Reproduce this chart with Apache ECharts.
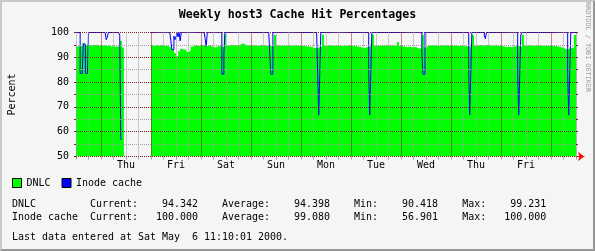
<!DOCTYPE html>
<html><head><meta charset="utf-8">
<script src="https://cdn.jsdelivr.net/npm/echarts@6/dist/echarts.min.js"></script>
<style>
html,body{margin:0;padding:0;background:#f5f5f5}
#wrap{position:relative;width:595px;height:251px}
#c{width:595px;height:251px}
#f{position:absolute;left:0;top:0;width:595px;height:251px;box-sizing:border-box;border:2px solid;border-color:#c8c8c8 #969696 #969696 #c8c8c8;pointer-events:none}
</style>
</head><body>
<div id="wrap"><div id="c"></div><div id="f"></div></div>
<script>
const chartTitle = 'Weekly host3 Cache Hit Percentages';
const yAxisName = 'Percent';
const credit = 'RRDTOOL / TOBI OETIKER';
const dayLabels = ['Thu','Fri','Sat','Sun','Mon','Tue','Wed','Thu','Fri'];
const yTickLabels = [50,60,70,80,90,100];
const seriesNames = ['DNLC','Inode cache'];
const statCurrent = [94.342, 100.000];
const statAverage = [94.398, 99.080];
const statMin = [90.418, 56.901];
const statMax = [99.231, 100.000];
const lastUpdate = 'Last data entered at Sat May  6 11:10:01 2000.';

// DNLC hit %, hourly from Wed 12:00 (241 readings)
const dnlc = [
94.5,94.2,94.9,95.9,94.6,95.3,94.8,95.0,94.9,95.1,94.8,94.9,
94.7,94.9,94.6,94.8,94.4,94.6,94.3,94.5,94.2,96.6,94.0,
null,null,null,null,null,null,null,null,null,null,null,null,null,
94.8,94.6,94.9,94.7,95.0,94.8,94.6,94.8,94.2,94.0,93.0,91.6,
90.418,92.4,93.4,92.9,93.2,92.1,92.5,94.3,
94.7,94.9,94.6,94.8,95.0,94.7,94.5,94.8,94.6,94.2,94.0,94.4,94.6,94.3,94.1,99.231,
94.7,94.9,95.1,94.8,95.0,94.7,95.2,95.6,95.4,94.9,94.8,95.0,94.7,94.9,94.6,94.8,95.0,94.7,94.9,94.6,94.8,94.5,94.6,99.0,
94.8,94.9,94.6,94.8,94.7,95.0,94.8,94.6,94.9,94.7,94.8,94.5,94.7,94.6,94.4,94.5,94.2,94.0,93.6,93.8,94.1,94.3,99.1,94.6,
94.8,94.9,94.7,94.8,94.6,94.9,94.7,94.5,94.8,94.6,94.9,94.7,94.5,94.6,94.4,94.3,94.1,93.8,93.9,94.2,94.4,94.6,99.2,94.7,
94.8,94.6,94.9,94.7,94.8,95.0,94.7,94.9,94.6,94.8,96.2,94.7,94.5,94.3,94.1,94.4,94.2,94.0,94.3,93.7,93.5,93.6,98.9,93.9,
94.6,94.8,94.9,94.7,94.8,94.6,94.9,94.7,94.8,95.0,94.7,94.8,94.6,94.9,94.7,94.5,94.8,94.6,94.4,94.6,94.3,94.5,99.0,94.7,
94.9,94.8,95.0,94.7,94.9,95.1,94.8,94.6,94.9,94.7,94.8,94.6,94.5,94.3,94.2,94.4,94.1,94.3,94.5,94.4,94.6,94.3,99.1,94.7,
94.8,94.9,94.7,94.8,94.6,94.9,94.7,94.8,94.5,94.7,94.6,94.8,94.5,94.6,94.4,94.3,94.1,93.8,93.4,93.1,93.5,93.8,94.0,99.0,94.342
];

// Inode cache hit %, half-hourly from Wed 12:00 (481 readings)
const inode = [
100,100,100,100,83.5,83.5,83.5,95.3,95.3,83.5,83.5,83.5,100,100,100,100,100,100,100,100,
100,100,100,100,100,100,100,100,100,97.1,98.0,100,100,100,100,100,100,100,100,100,
100,100,98.7,56.901,null,null,null,null,null,null,null,null,null,null,null,null,null,null,null,null,
null,null,null,null,null,null,null,null,null,null,null,null,100,100,100,100,100,100,100,100,
100,100,100,100,100,100,100,100,100,100,100,96.9,93.1,93.1,98.5,97.1,98.2,100,98.2,100,
96.6,100,100,100,100,100,100,100,100,100,100,100,100,100,100,100,100,100,100,100,
100,100,100,100,97.5,94.4,100,100,100,100,100,100,100,100,100,100,100,100,100,100,
83.2,83.2,91.8,100,100,100,100,100,100,100,100,100,100,100,100,100,100,100,100,100,
100,100,100,100,100,100,100,100,100,100,100,100,100,100,100,100,100,100,100,100,
100,100,100,100,100,100,91.8,83.2,83.2,100,100,100,100,100,100,100,100,100,100,100,
100,100,100,100,100,100,100,100,100,100,100,100,100,100,100,100,100,100,100,100,
100,100,100,100,100,100,100,100,100,100,100,100,83.5,66.7,83.5,100,100,100,100,100,
100,100,100,100,100,100,100,100,100,100,100,100,100,100,100,100,100,100,100,100,
100,100,100,100,100,100,100,100,100,100,100,100,100,100,100,100,100,100,100,100,
100,83.5,66.7,83.5,100,100,100,100,100,100,100,100,100,100,100,100,100,100,100,100,
100,100,100,100,100,100,100,100,100,100,100,100,100,100,100,100,100,100,100,100,
100,100,100,100,100,100,100,100,100,100,100,100,92.2,83.2,83.2,100,100,100,100,100,
100,100,100,100,100,100,100,100,100,100,100,100,100,100,100,100,100,100,100,100,
100,100,100,100,100,100,100,100,100,100,100,100,100,100,100,100,100,83.5,66.7,83.5,
100,100,100,100,100,100,100,100,100,100,100,100,98.6,97.5,100,100,100,100,100,100,
100,100,100,100,100,100,100,100,100,100,100,100,100,100,100,100,100,100,100,100,
100,100,100,100,83.5,66.7,83.5,99.0,100,100,100,100,100,100,100,100,100,100,100,100,
100,100,100,100,100,100,100,100,100,100,100,100,100,100,100,100,100,100,100,100,
100,100,100,100,100,100,100,100,100,100,100,100,83.5,66.7,83.5,100,100,100,100,100,
100
];

const FONT = '"DejaVu Sans Mono", monospace';
const MAJOR = '#821e1e';
const MINOR = '#a0a0a0';

function pad(s, n, right) { s = String(s); while (s.length < n) s = right ? ' ' + s : s + ' '; return s; }
function statLine(i) {
  return pad(seriesNames[i], 13) + 'Current:' + pad(statCurrent[i].toFixed(3), 10, true) + '    ' +
    'Average:' + pad(statAverage[i].toFixed(3), 10, true) + '    ' +
    'Min:' + pad(statMin[i].toFixed(3), 10, true) + '    ' +
    'Max:' + pad(statMax[i].toFixed(3), 10, true);
}

const toPts = (arr, step) => arr.map((v, i) => [i * step, v === null ? '-' : v]);

const chart = echarts.init(document.getElementById('c'), null, {renderer: 'canvas'});
chart.setOption({
  animation: false,
  backgroundColor: '#f5f5f5',
  title: {text: chartTitle, left: 'center', top: 4,
    textStyle: {fontFamily: FONT, fontWeight: 'bold', fontSize: 11.6, color: '#000'}},
  legend: {left: 12, top: 178, padding: 0, itemWidth: 9, itemHeight: 9, itemGap: 11, icon: 'rect',
    itemStyle: {borderColor: '#000', borderWidth: 1},
    textStyle: {fontFamily: FONT, fontSize: 9.97, color: '#000'},
    data: seriesNames},
  grid: [
    {left: 76, top: 32.5, width: 500, height: 124},
    {left: 576, top: 32.5, width: 8, height: 124}
  ],
  xAxis: [
    {type: 'value', gridIndex: 0, min: 0, max: 240, interval: 6, z: 3,
      axisLine: {show: false},
      axisTick: {show: true, length: 3, lineStyle: {color: MINOR}},
      axisLabel: {margin: 4, color: '#000', fontFamily: FONT, fontSize: 9.97,
        formatter: v => (v % 24 === 0 && v > 0 && v < 240) ? dayLabels[v / 24 - 1] : ''},
      splitLine: {show: true, lineStyle: {color: [MINOR, MINOR, MAJOR, MINOR], type: [1, 1], width: 1}}},
    {type: 'value', gridIndex: 1, min: 0, max: 1,
      axisLine: {show: true, onZero: false, symbol: ['none', 'arrow'], symbolSize: [7, 6], lineStyle: {color: '#ff0000'}},
      axisTick: {show: false}, axisLabel: {show: false}, splitLine: {show: false}}
  ],
  yAxis: [
    {type: 'value', gridIndex: 0, min: 50, max: 100, interval: 5, z: 3,
      axisLine: {show: false},
      axisTick: {show: true, length: 2, lineStyle: {color: MAJOR}},
      axisLabel: {margin: 7, color: '#000', fontFamily: FONT, fontSize: 9.97,
        formatter: v => yTickLabels.includes(v) ? String(v) : ''},
      splitLine: {show: true, lineStyle: {color: [MAJOR, MINOR], type: [1, 1], width: 1}}},
    {type: 'value', gridIndex: 0, position: 'right', min: 50, max: 100, interval: 5, z: 3,
      axisLine: {show: true, lineStyle: {color: '#b4b4b4'}},
      axisTick: {show: true, length: 2, lineStyle: {color: MAJOR}},
      axisLabel: {show: false}, splitLine: {show: false}},
    {type: 'value', gridIndex: 1, min: 0, max: 1, show: false}
  ],
  series: [
    {name: seriesNames[0], type: 'line', xAxisIndex: 0, yAxisIndex: 0, data: toPts(dnlc, 1),
      step: 'end', symbol: 'none', showSymbol: false, connectNulls: false, silent: true, z: 1,
      lineStyle: {width: 0, color: '#00ff00'}, itemStyle: {color: '#00ff00'},
      areaStyle: {color: '#00ff00', opacity: 1, origin: 'start'}},
    {name: seriesNames[1], type: 'line', xAxisIndex: 0, yAxisIndex: 0, data: toPts(inode, 0.5),
      step: 'end', symbol: 'none', showSymbol: false, connectNulls: false, silent: true, z: 2,
      lineStyle: {width: 1, color: '#0000ff', join: 'miter', cap: 'butt'}, itemStyle: {color: '#0000ff'}}
  ],
  graphic: [
    {type: 'text', x: 12.5, y: 94.5, rotation: Math.PI / 2,
      style: {text: yAxisName, font: '9.97px ' + FONT, fill: '#000', align: 'center', verticalAlign: 'middle'}},
    {type: 'text', x: 588, y: 47, rotation: -Math.PI / 2,
      style: {text: credit, font: '6.8px ' + FONT, fill: '#999999', align: 'center', verticalAlign: 'middle'}},
    {type: 'text', x: 12, y: 204.5,
      style: {text: statLine(0), font: '9.97px ' + FONT, fill: '#000', verticalAlign: 'middle'}},
    {type: 'text', x: 12, y: 217.5,
      style: {text: statLine(1), font: '9.97px ' + FONT, fill: '#000', verticalAlign: 'middle'}},
    {type: 'text', x: 12, y: 237.5,
      style: {text: lastUpdate, font: '9.97px ' + FONT, fill: '#000', verticalAlign: 'middle'}}
  ]
});
</script>
</body></html>
